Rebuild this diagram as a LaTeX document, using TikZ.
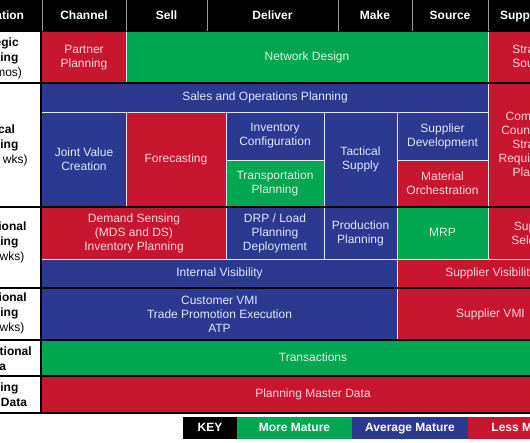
\documentclass[tikz,border=0pt]{standalone}
\usepackage{fontspec}
\setmainfont{Liberation Sans}
\definecolor{cred}{RGB}{200,22,46}
\definecolor{cgreen}{RGB}{0,166,80}
\definecolor{cblue}{RGB}{43,57,144}
\definecolor{tred}{RGB}{250,214,220}
\definecolor{tgreen}{RGB}{220,246,228}
\definecolor{tblue}{RGB}{226,231,250}
\newcommand\cellbox[7]{%
  \path[#6cell] (#2,#3) rectangle (#4,#5);
  \node[#6txt] (#1) at ({(#2+#4)/2},{(#3+#5)/2}) {#7};}
\newcommand\cellone[7]{%
  \path[#6cell] (#2,#3) rectangle (#4,#5);
  \node[#6txt, oneline] (#1) at ({(#2+#4)/2},{(#3+#5)/2}) {#7};}
\begin{document}
\begin{tikzpicture}[x=1pt,y=-1pt,
  every node/.style={font=\fontsize{12}{14}\selectfont, align=center, inner sep=0pt},
  oneline/.style={text height=8.8pt, text depth=2.6pt},
  redcell/.style={fill=cred}, redtxt/.style={text=tred},
  greencell/.style={fill=cgreen}, greentxt/.style={text=tgreen},
  bluecell/.style={fill=cblue}, bluetxt/.style={text=tblue},
  hdr/.style={text=white, font=\fontsize{12}{14}\selectfont\bfseries, oneline},
  lbl/.style={text=black, font=\fontsize{12}{15}\selectfont},
  keytxt/.style={text=white, font=\fontsize{12}{14}\selectfont\bfseries, oneline},
  thinline/.style={draw=white!88!cblue, line width=0.9pt},
  sepline/.style={draw=black, line width=2pt},
  hdrline/.style={draw=gray!80, line width=1pt}]
\useasboundingbox (0,0) rectangle (530,443);
\clip (0,0) rectangle (530,443);
\fill[white] (0,0) rectangle (530,443);
% header
\fill[black] (-60,0) rectangle (600,32);
\foreach \xx in {42,126,207,338,412,488} {\draw[hdrline] (\xx,0) -- (\xx,31);}
\node[hdr] (hint) at (-7,16) {Integration};
\node[hdr] (hch) at (84,16) {Channel};
\node[hdr] (hse) at (166.5,16) {Sell};
\node[hdr] (hde) at (272.5,16) {Deliver};
\node[hdr] (hma) at (375,16) {Make};
\node[hdr] (hso) at (450,16) {Source};
\node[hdr] (hsu) at (524,16) {Supplier};
% strategic
\cellbox{pp}{42}{32}{126}{83}{red}{Partner\\Planning}
\cellone{nd}{126}{32}{488}{83}{green}{Network Design}
\cellbox{ss}{488}{32}{584}{83}{red}{Strategic\\Sourcing}
% tactical
\cellone{sop}{42}{83}{488}{112}{blue}{Sales and Operations Planning}
\cellbox{jvc}{42}{112}{126}{207}{blue}{Joint Value\\Creation}
\cellone{fc}{126}{112}{226}{207}{red}{Forecasting}
\cellbox{ic}{226}{112}{324}{160}{blue}{Inventory\\Configuration}
\cellbox{tp}{226}{160}{324}{207}{green}{Transportation\\Planning}
\cellbox{ts}{324}{112}{397}{207}{blue}{Tactical\\Supply}
\cellbox{sd}{397}{112}{488}{160}{blue}{Supplier\\Development}
\cellbox{mo}{397}{160}{488}{207}{red}{Material\\Orchestration}
\cellbox{cc}{488}{83}{584}{207}{red}{Commodity\\Councils and\\Strategic\\Requirements\\Planning}
% operational
\cellbox{ds}{42}{207}{226}{259}{red}{Demand Sensing\\(MDS and DS)\\Inventory Planning}
\cellbox{drp}{226}{207}{324}{259}{blue}{DRP / Load\\Planning\\Deployment}
\cellbox{prp}{324}{207}{397}{259}{blue}{Production\\Planning}
\cellone{mrp}{397}{207}{488}{259}{green}{MRP}
\cellbox{sel}{488}{207}{584}{259}{red}{Supplier\\Selection}
\cellone{iv}{42}{259}{397}{288}{blue}{Internal Visibility}
\cellone{svis}{397}{259}{584}{288}{red}{Supplier Visibility}
% execution
\cellbox{cv}{42}{288}{397}{340}{blue}{Customer VMI\\Trade Promotion Execution\\ATP}
\cellone{svmi}{397}{288}{584}{340}{red}{Supplier VMI}
\cellone{tr}{42}{340}{584}{376}{green}{Transactions}
\cellone{pmd}{42}{376}{584}{413}{red}{Planning Master Data}
% thin dividers
\draw[thinline] (126,32) -- (126,83);
\draw[thinline] (488,32) -- (488,83);
\draw[thinline] (42,112) -- (488,112);
\foreach \xx in {126,226,324,397} {\draw[thinline] (\xx,112) -- (\xx,207);}
\draw[thinline] (488,83) -- (488,207);
\draw[thinline] (226,160) -- (324,160);
\draw[thinline] (397,160) -- (488,160);
\foreach \xx in {226,324,397,488} {\draw[thinline] (\xx,207) -- (\xx,259);}
\draw[thinline] (42,259) -- (584,259);
\draw[thinline] (397,259) -- (397,340);
% left labels
\node[lbl] (lstr) at (-7,58) {\textbf{Strategic}\\\textbf{Planning}\\(3-18 mos)};
\node[lbl] (ltac) at (-7,145) {\textbf{Tactical}\\\textbf{Planning}\\(13 - 52 wks)};
\node[lbl] (lope) at (-7,242) {\textbf{Operational}\\\textbf{Planning}\\(1 - 13 wks)};
\node[lbl] (lexe) at (-7,313) {\textbf{Executional}\\\textbf{Planning}\\(0 - 12 wks)};
\node[lbl] (ltra) at (-7,359) {\textbf{Transactional}\\\textbf{Data}};
\node[lbl] (lmas) at (-7,395) {\textbf{Planning}\\\textbf{Master Data}};
% black separators
\foreach \yy in {83,207,288,340,376,413} {\draw[sepline] (-60,\yy) -- (600,\yy);}
\draw[draw=black, line width=1.6pt] (41.2,31) -- (41.2,414);
% key
\path[fill=black] (183,417) rectangle (237,439);
\node[keytxt] (kkey) at (210,428) {KEY};
\path[fill=cgreen] (237,417) rectangle (352,439);
\node[keytxt] (kmore) at (294.5,428) {More Mature};
\path[fill=cblue] (352,417) rectangle (468,439);
\node[keytxt] (kavg) at (410,428) {Average Mature};
\path[fill=cred] (468,417) rectangle (585,439);
\node[keytxt] (kless) at (526.5,428) {Less Mature};
\end{tikzpicture}
\end{document}
